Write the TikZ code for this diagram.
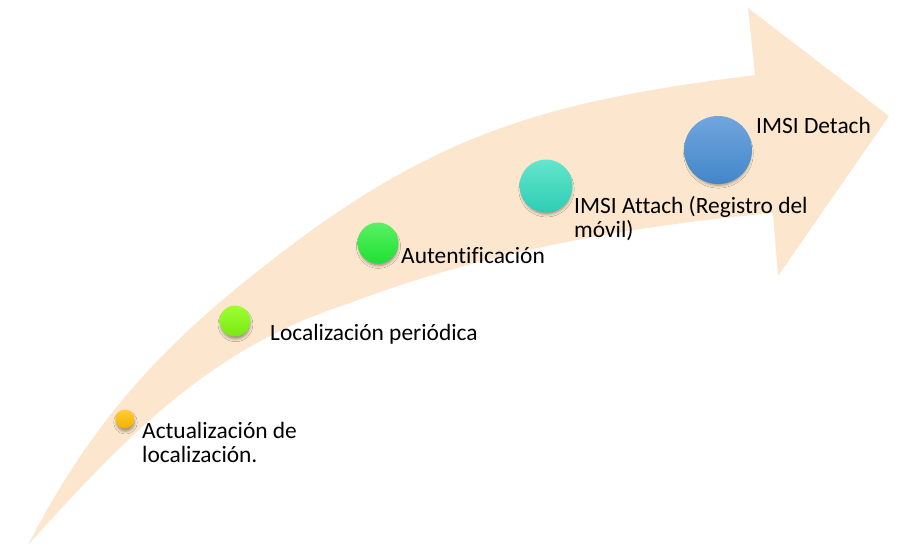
\documentclass[tikz,border=0pt]{standalone}
\usepackage{fontspec}
\setmainfont{Carlito}[Ligatures={NoCommon}]
\usetikzlibrary{shadows.blur}

\definecolor{peach}{RGB}{252,231,206}
\definecolor{yelTop}{RGB}{255,204,51}
\definecolor{yelBot}{RGB}{240,178,0}
\definecolor{limeTop}{RGB}{160,255,50}
\definecolor{limeBot}{RGB}{120,232,20}
\definecolor{grnTop}{RGB}{90,240,100}
\definecolor{grnBot}{RGB}{30,225,50}
\definecolor{tealTop}{RGB}{100,230,205}
\definecolor{tealBot}{RGB}{45,205,180}
\definecolor{bluTop}{RGB}{112,166,222}
\definecolor{bluBot}{RGB}{66,134,200}

\begin{document}
\begin{tikzpicture}[x=1pt,y=-1pt,
  dot/.style={circle,inner sep=0pt,
    blur shadow={shadow xshift=0.5pt,shadow yshift=-3.5pt,shadow scale=0.94,shadow blur radius=3pt,shadow opacity=40}},
  lbl/.style={anchor=base west,inner sep=0pt,align=left,font=\fontsize{23.4}{24}\selectfont}]
  \useasboundingbox (0,0) rectangle (902,547);
  % curved arrow
  \fill[peach] (28,545) .. controls (100,405) and (180,330) .. (285,250)
    .. controls (444,129) and (557,100) .. (755,75)
    -- (748,8) -- (889,116) -- (778,276) -- (773,213)
    .. controls (630,226) and (484,252) .. (350,303)
    .. controls (220,345) and (140,420) .. (28,545) -- cycle;
  % steps
  \node[dot,minimum size=19pt,top color=yelTop,bottom color=yelBot] (upd) at (125,419) {};
  \node[dot,minimum size=31pt,top color=limeTop,bottom color=limeBot] (per) at (235,321) {};
  \node[dot,minimum size=41pt,top color=grnTop,bottom color=grnBot] (aut) at (378,243) {};
  \node[dot,minimum size=53pt,top color=tealTop,bottom color=tealBot] (att) at (546,186) {};
  \node[dot,minimum size=68pt,top color=bluTop,bottom color=bluBot] (det) at (718,150) {};
  % labels (base = last line)
  \node[lbl] (tupd) at (142,462) {Actualización de\\localización.};
  \node[lbl] (tper) at (270,340) {Localización periódica};
  \node[lbl] (taut) at (401,263) {Autentificación};
  \node[lbl] (tatt) at (574,237) {IMSI Attach (Registro del\\móvil)};
  \node[lbl] (tdet) at (756,133) {IMSI Detach};
\end{tikzpicture}
\end{document}
